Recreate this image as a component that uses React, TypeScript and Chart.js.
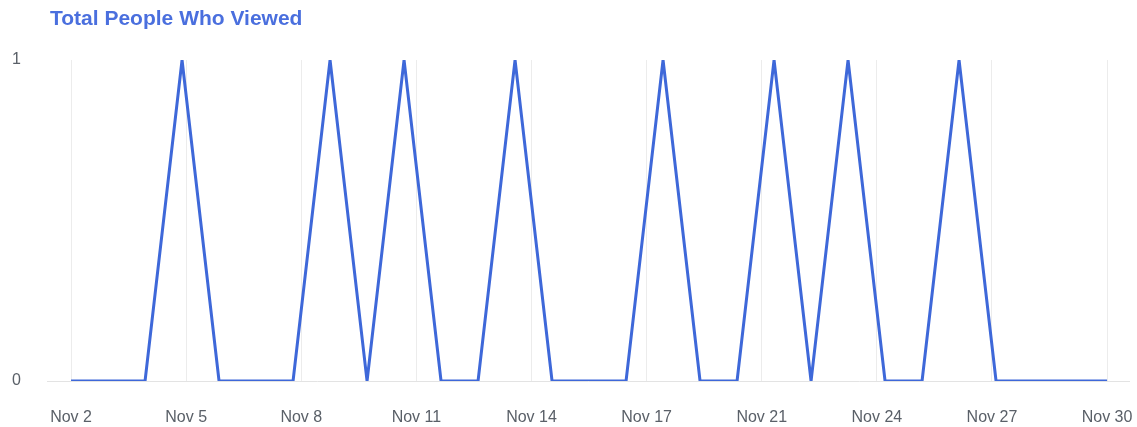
import React, { useEffect, useRef } from "react";
import { Chart, registerables } from "chart.js";

Chart.register(...registerables);

const titleText = "Total People Who Viewed";
const days = [
  "Nov 2", "Nov 3", "Nov 4", "Nov 5", "Nov 6", "Nov 7", "Nov 8", "Nov 9", "Nov 10", "Nov 11",
  "Nov 12", "Nov 13", "Nov 14", "Nov 15", "Nov 16", "Nov 17", "Nov 18", "Nov 19", "Nov 20", "Nov 21",
  "Nov 22", "Nov 23", "Nov 24", "Nov 25", "Nov 26", "Nov 27", "Nov 28", "Nov 29", "Nov 30",
];
const viewers = [0, 0, 0, 1, 0, 0, 0, 1, 0, 1, 0, 0, 1, 0, 0, 0, 1, 0, 0, 1, 0, 1, 0, 0, 1, 0, 0, 0, 0];
const xTickLabels = ["Nov 2", "Nov 5", "Nov 8", "Nov 11", "Nov 14", "Nov 17", "Nov 21", "Nov 24", "Nov 27", "Nov 30"];
const yTickValues = [0, 1];

const FONT = "'Liberation Sans', Arial, sans-serif";

export default function App() {
  const ref = useRef<HTMLCanvasElement | null>(null);

  useEffect(() => {
    if (!ref.current) return;
    const last = days.length - 1;
    const tickPositions = xTickLabels.map((_, i) => (i * last) / (xTickLabels.length - 1));

    const titlePlugin = {
      id: "leftTitle",
      afterDraw(chart: any) {
        const ctx = chart.ctx;
        ctx.save();
        ctx.font = `bold 21px ${FONT}`;
        ctx.fillStyle = "#4a6fde";
        ctx.textBaseline = "middle";
        ctx.textAlign = "left";
        ctx.fillText(titleText, 50, 19);
        ctx.restore();
      },
    };

    const chart = new Chart(ref.current, {
      type: "line",
      data: {
        datasets: [
          {
            label: titleText,
            data: viewers.map((v, i) => ({ x: i, y: v })),
            borderColor: "#3e68d9",
            borderWidth: 3,
            pointRadius: 0,
            tension: 0,
            fill: false,
          },
        ],
      },
      options: {
        responsive: true,
        maintainAspectRatio: false,
        animation: false,
        layout: { padding: { top: 60, right: 7, bottom: 0, left: 0 } },
        plugins: {
          legend: { display: false },
          title: { display: false },
          tooltip: { enabled: false },
        },
        scales: {
          x: {
            type: "linear",
            min: -0.65,
            max: last + 0.62,
            afterBuildTicks: (s: any) => {
              s.ticks = tickPositions.map((v) => ({ value: v }));
            },
            afterFit: (s: any) => {
              s.height = 46;
              s.paddingLeft = 0;
              s.paddingRight = 0;
            },
            border: { display: false },
            grid: { color: "#ececec", lineWidth: 1, drawTicks: false },
            ticks: {
              autoSkip: false,
              maxRotation: 0,
              padding: 27,
              color: "#5a6068",
              font: { family: FONT, size: 16 },
              callback: (_v: any, i: number) => xTickLabels[i],
            },
          },
          y: {
            min: 0,
            max: 1,
            afterBuildTicks: (s: any) => {
              s.ticks = yTickValues.map((v) => ({ value: v }));
            },
            afterFit: (s: any) => {
              s.width = 47;
              s.paddingTop = 0;
              s.paddingBottom = 0;
            },
            border: { display: false },
            grid: {
              drawTicks: false,
              color: (c: any) => (c.tick && c.tick.value === 0 ? "#e3e3e3" : "rgba(0,0,0,0)"),
            },
            ticks: {
              padding: 26,
              color: "#5a6068",
              font: { family: FONT, size: 16 },
            },
          },
        },
      },
      plugins: [titlePlugin],
    } as any);

    return () => chart.destroy();
  }, []);

  return (
    <div style={{ position: "fixed", left: 0, top: 0, width: 1137, height: 427, background: "#fff" }}>
      <canvas ref={ref} />
    </div>
  );
}
